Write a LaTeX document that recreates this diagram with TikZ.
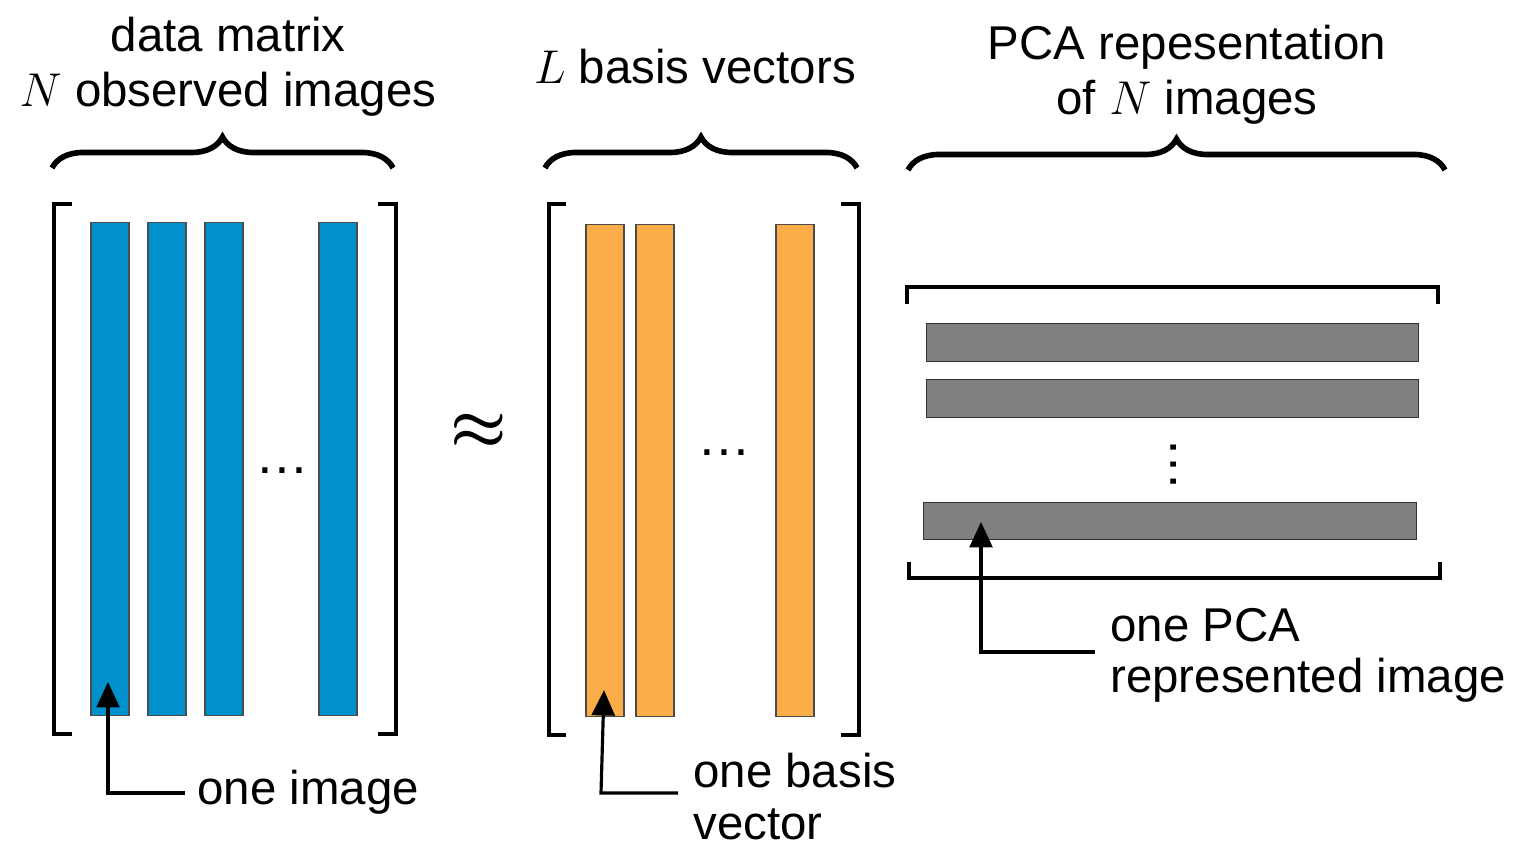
\RequirePackage{fix-cm}
\documentclass[tikz,border=0pt]{standalone}
\usepackage{fontspec}
\setmainfont{Liberation Sans}
\usetikzlibrary{arrows.meta,decorations.pathreplacing}

\definecolor{imgblue}{RGB}{0,145,204}
\definecolor{basisorange}{RGB}{251,173,74}
\definecolor{pcagray}{RGB}{128,128,128}

\tikzset{
  bracket/.style={line width=2.8pt, line join=miter},
  curly/.style={decorate, decoration={brace, amplitude=0.62cm}, line width=3.2pt},
  pointer/.style={line width=1.8pt, -{Triangle[width=13pt,length=14.5pt]}},
  txt/.style={inner sep=0pt, font=\fontsize{27}{29.5}\selectfont},
  title/.style={txt, align=center, anchor=base, font=\fontsize{27}{31.75}\selectfont},
  dotrow/.style={inner sep=0pt, anchor=base, font=\fontsize{30.6}{30}\selectfont},
  bigsign/.style={inner sep=0pt, font=\fontsize{36}{36}\selectfont\boldmath},
}

\begin{document}
\begin{tikzpicture}[x=0.02cm, y=-0.02cm]

  \useasboundingbox (0,0) rectangle (1529,854);

  % titles and braces
  \node[title] (t1) at (228,107)  {data matrix\\$N$ observed images};
  \node[title] (t2) at (695,84)   {$L$ basis vectors};
  \node[title] (t3) at (1187,115) {PCA repesentation\\of $N$ images};

  \draw[curly] (52,168)  -- (393,168);
  \draw[curly] (545,168) -- (857,168);
  \draw[curly] (908,170) -- (1445,170);

  % data matrix
  \draw[bracket] (72,204)  -- (54,204)  -- (54,734)  -- (72,734);
  \draw[bracket] (378,204) -- (396,204) -- (396,734) -- (378,734);

  \begin{scope}[every node/.style={draw=black!70, line width=0.6pt, fill=imgblue,
      inner sep=0pt, minimum width=0.76cm, minimum height=9.88cm}]
    \node (img1) at (110,469) {};
    \node (img2) at (167,469) {};
    \node (img3) at (224,469) {};
    \node (img4) at (338,469) {};
  \end{scope}
  \node[dotrow] (dots1) at (282.5,474) {\dots};

  \node[bigsign] (apx) at (479,432) {$\approx$};

  % basis vectors
  \draw[bracket] (566,204) -- (549,204) -- (549,735) -- (566,735);
  \draw[bracket] (841,204) -- (859,204) -- (859,735) -- (841,735);

  \begin{scope}[every node/.style={draw=black!70, line width=0.6pt, fill=basisorange,
      inner sep=0pt, minimum width=0.76cm, minimum height=9.86cm}]
    \node (bv1) at (605,470.5) {};
    \node (bv2) at (655,470.5) {};
    \node (bv3) at (795,470.5) {};
  \end{scope}
  \node[dotrow] (dots2) at (724,456) {\dots};

  % PCA representation
  \draw[bracket] (907,304) -- (907,287) -- (1438,287) -- (1438,304);
  \draw[bracket] (909,562) -- (909,578) -- (1440,578) -- (1440,562);

  \begin{scope}[every node/.style={draw=black!80, line width=0.6pt, fill=pcagray,
      inner sep=0pt, minimum width=9.86cm, minimum height=0.75cm}]
    \node (pc1) at (1172.5,342.5) {};
    \node (pc2) at (1172.5,398.5) {};
    \node (pc3) at (1170,521) {};
  \end{scope}
  \node[dotrow, rotate=90] (dots3) at (1176,465) {\dots};

  % pointers and their labels
  \node[txt, anchor=base west] (l1) at (197,805) {one image};
  \node[txt, anchor=base west, align=left] (l2) at (693,839) {one basis\\vector};
  \node[txt, anchor=base west, align=left] (l3) at (1110,693) {one PCA\\represented image};

  \coordinate (f1) at (185,793);  \coordinate (k1) at (108,793);  \coordinate (a1) at (108,682);
  \coordinate (f2) at (678,793);  \coordinate (k2) at (601,793);  \coordinate (a2) at (604,690);
  \coordinate (f3) at (1095,652); \coordinate (k3) at (981,652);  \coordinate (a3) at (981,522);

  \draw[pointer] (f1) -- (k1) -- (a1);
  \draw[pointer] (f2) -- (k2) -- (a2);
  \draw[pointer] (f3) -- (k3) -- (a3);

\end{tikzpicture}
\end{document}
